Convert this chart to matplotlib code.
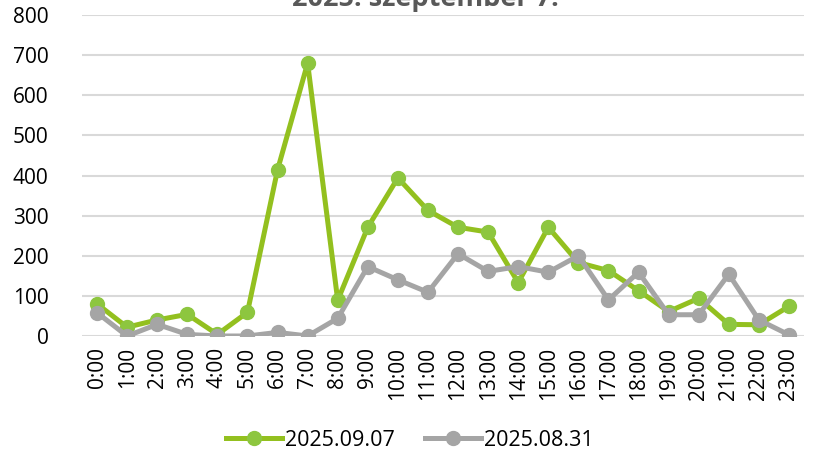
import matplotlib
matplotlib.use("Agg")
import matplotlib.pyplot as plt

hours = [f"{h}:00" for h in range(24)]
series_0907 = [80, 22, 40, 54, 4, 59, 414, 680, 89, 271, 394, 313, 271, 259, 133, 271, 183, 163, 113, 61, 94, 29, 28, 74]
series_0831 = [58, 0, 29, 4, 0, 0, 9, 0, 44, 173, 140, 109, 205, 161, 173, 159, 200, 90, 159, 53, 53, 154, 40, 3]
title = "2025. szeptember 7."
labels = ["2025.09.07", "2025.08.31"]
yticks = [0, 100, 200, 300, 400, 500, 600, 700, 800]

plt.rcParams['font.family'] = ['Open Sans', 'DejaVu Sans']

fig = plt.figure(figsize=(8.14, 4.59), dpi=100)
ax = fig.add_axes([82/814, 1-336/459, (804-82)/814, (336-15)/459])

x = list(range(len(hours)))
green_line = "#93C01F"
green_mk = "#8DC63F"
gray = "#A5A5A5"
ax.plot(x, series_0907, color=green_line, lw=3.6, marker='o', ms=10,
        mfc=green_mk, mec=green_mk, label=labels[0], zorder=3)
ax.plot(x, series_0831, color=gray, lw=3.6, marker='o', ms=10,
        mfc=gray, mec=gray, label=labels[1], zorder=4)

ax.set_xlim(-0.5, 23.5)
ax.set_ylim(0, 800)
ax.set_yticks(yticks)
ax.set_xticks(x)
ax.set_xticklabels(hours, rotation=90)
ax.tick_params(axis='both', length=0, labelsize=15, colors='black')
ax.tick_params(axis='y', pad=24)
ax.tick_params(axis='x', pad=8)
ax.grid(axis='y', color='#D9D9D9', lw=1.5)
ax.set_axisbelow(True)
for s in ax.spines.values():
    s.set_visible(False)

fig.text(425/814, 1-6/459, title, ha='center', va='baseline', fontsize=19.5,
         fontweight='bold', color='#595959')

fig.legend(loc='center', bbox_to_anchor=(410/814, 1-440/459), ncol=2, frameon=False,
           fontsize=15.5, handlelength=2.6, columnspacing=1.4, handletextpad=0.15)

fig.savefig("out.png", dpi=100)
